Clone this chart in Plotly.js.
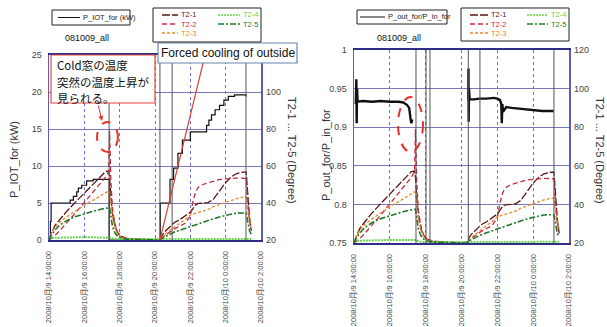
<!DOCTYPE html>
<html><head><meta charset="utf-8">
<script src="https://cdn.plot.ly/plotly-3.0.1.min.js"></script>
<style>html,body{margin:0;padding:0;background:#fff;}#chart{width:607px;height:327px;}</style>
</head><body><div id="chart"></div>
<script>
// ---------- DATA ----------
const tickHours = [14, 16, 18, 20, 22, 24, 26];
const tickText = ['2008/10月/9 14:00:00','2008/10月/9 16:00:00','2008/10月/9 18:00:00','2008/10月/9 20:00:00','2008/10月/9 22:00:00','2008/10月/10 0:00:00','2008/10月/10 2:00:00'];

// P_IOT_for (kW), clock hours
const tP = [14.0,14.08,14.12,15.2,15.38,15.57,15.66,15.85,16.13,16.5,17.4,17.41,20.28,20.3,20.85,21.05,21.3,21.55,22.0,22.92,23.05,23.2,23.4,23.65,23.9,24.15,24.5,25.15];
const vP = [0,2.5,5,5.4,5.9,6.5,7.0,7.4,8.0,8.2,8.2,0,0,5,8.2,9.7,11.7,13.5,14.6,15.5,16.2,16.9,17.6,18.2,18.9,19.4,19.6,19.4];

// P_out_for/P_in_for, two segments
const tR1 = [14.1,14.13,14.15,14.17,14.2,14.5,15.0,15.5,16.0,16.5,16.75,16.95,17.08,17.15,17.2,17.25];
const vR1 = [0.93,0.962,0.905,0.95,0.933,0.934,0.933,0.934,0.933,0.933,0.932,0.929,0.925,0.912,0.905,0.91];
const tR2 = [20.38,20.39,20.4,20.42,20.45,20.7,21.0,21.4,21.8,22.0,22.15,22.22,22.25,22.28,22.32,22.5,22.8,23.2,23.6,24.0,24.5,25.0,25.15];
const vR2 = [0.935,0.976,0.907,0.95,0.936,0.936,0.937,0.937,0.938,0.937,0.935,0.93,0.905,0.93,0.92,0.926,0.925,0.924,0.923,0.922,0.921,0.921,0.921];

// Temperatures (Degree)
const tT = [14.0,14.15,14.35,14.6,15.0,15.4,15.8,16.2,16.6,17.0,17.2,17.38,17.43,17.5,17.6,17.75,17.9,18.1,18.4,19.0,19.6,20.28,20.5,20.8,21.1,21.4,21.7,22.0,22.15,22.3,22.45,22.7,23.0,23.3,23.6,24.0,24.3,24.6,24.9,25.16,25.25,25.35,25.45];
const T2_1 = [20,24,28,31,35.5,39.5,43.5,47.5,51.5,55.5,57,57.3,54, 44,34,27,23.5,21.8,20.8,20.4,20.2,20, 24,27,29.5,31,33,35,37,39,39.8,40,40.2,42,46,51,54,55.8,56.6,56.8,45,32,25];
const T2_2 = [20,21,22.5,25,29,33.5,38,42.5,47,51.5,54,57,79, 52,36,28,24,22,21,20.5,20.3,20, 22,24,26,27.5,29,33,41,46,48.5,50,51,52,52.6,53,53.3,53.5,53.4,53.2,40,30,26];
const T2_3 = [20,24,27,29.5,32.5,35,37.5,40,42,44.5,45.5,46.5,46, 40,32,26,23,21.5,20.8,20.4,20.2,20, 22.5,25,27,29,31,33.5,34,34.5,35,35.5,36.5,38,39,40.5,41.5,42.3,43,43.3,36,30,28];
const T2_4 = [20.5,21,21.2,21.3,21.4,21.4,21.5,21.5,21.5,21.6,21.6,21.6,21.5, 21.2,20.8,20.6,20.5,20.5,20.5,20.5,20.5,20.5, 20.6,20.6,20.6,20.6,20.6,20.6,20.6,20.6,20.6,20.6,20.6,20.6,20.6,20.6,20.6,20.6,20.6,20.6,20.6,20.6,20.6];
const T2_5 = [20,23,25.5,28,30.5,32.3,33.5,34.8,35.8,36.8,37.3,37.7,37.5, 33,27,23.5,22,21,20.5,20.3,20.2,20, 21.5,23,24.3,25.3,26.2,27,27.5,28,28.5,29.5,30.5,31.5,32.3,33.3,34,34.5,34.6,34.6,30,25,23];
const tempNames = ['T2-1','T2-2','T2-3','T2-4','T2-5'];
const tempSeries = [T2_1, T2_2, T2_3, T2_4, T2_5];

// callout texts
const coldLines = ['Cold窓の温度', '突然の温度上昇が', '見られる。'];

// vertical off-scale lines
const vLinesLeft = [17.4, 20.28, 20.97, 25.15];
const vLinesRight = [17.46, 18.02, 18.24, 20.38, 25.16];
const vLinePartialRight = [21.03];

// ---------- STYLE ----------
const W = 607, H = 327;
const X = px => px / W, Y = py => 1 - py / H;
const FONT = 'Liberation Sans, Arial, "Noto Sans CJK JP", sans-serif';
const tempStyle = [
  {color:'#5a1414', dash:'8px,2px', width:1.3},
  {color:'#c8283c', dash:'5px,3px', width:1.3},
  {color:'#e8892a', dash:'3px,2px', width:1.3},
  {color:'#66d44a', dash:'2px,1px', width:2},
  {color:'#1e7a28', dash:'6px,2px,2px,2px', width:1.6}
];

const traces = [];
traces.push({x:tP, y:vP, type:'scatter', mode:'lines', line:{shape:'hv', color:'#111', width:1.2}, xaxis:'x', yaxis:'y', name:'P_IOT_for (kW)', showlegend:false});
traces.push({x:tR1.concat([18.5]).concat(tR2), y:vR1.concat([null]).concat(vR2), type:'scatter', mode:'lines', line:{color:'#111', width:2.4}, xaxis:'x2', yaxis:'y2', name:'P_out_for/P_in_for', showlegend:false, connectgaps:false});
[['x','y3'],['x2','y4']].forEach(ax => {
  tempSeries.forEach((s,i) => {
    traces.push({x:tT, y:s, type:'scatter', mode:'lines', line:tempStyle[i], xaxis:ax[0], yaxis:ax[1], name:tempNames[i], showlegend:false});
  });
});

const shapes = [];
const annotations = [];
vLinesLeft.forEach(t => shapes.push({type:'line', xref:'x', yref:'y domain', x0:t, x1:t, y0:0, y1:1, line:{color:'#555', width:1}, layer:'above'}));
vLinesRight.forEach(t => shapes.push({type:'line', xref:'x2', yref:'y2 domain', x0:t, x1:t, y0:0, y1:1, line:{color:'#555', width:1}, layer:'above'}));
vLinePartialRight.forEach(t => shapes.push({type:'line', xref:'x2', yref:'y2', x0:t, x1:t, y0:0.777, y1:1, line:{color:'#555', width:1}, layer:'above'}));

// red dashed ellipses
shapes.push({type:'circle', xref:'x', yref:'y', x0:16.72, x1:17.9, y0:11.9, y1:15.95, line:{color:'#e8302a', width:2, dash:'dash'}, layer:'above'});
shapes.push({type:'circle', xref:'x2', yref:'y2', x0:16.46, x1:17.85, y0:0.868, y1:0.939, line:{color:'#e8302a', width:2, dash:'dash'}, layer:'above'});
// forced cooling pointer line
shapes.push({type:'line', xref:'x', yref:'y', x0:20.28, y0:0, x1:22.72, y1:23.9, line:{color:'#d9413a', width:1.2}, layer:'above'});

// annotation boxes
shapes.push({type:'rect', xref:'paper', yref:'paper', x0:X(51), x1:X(155), y0:Y(103), y1:Y(55), fillcolor:'#fff', line:{color:'#e8453c', width:1.2}, layer:'above'});
shapes.push({type:'rect', xref:'paper', yref:'paper', x0:X(158), x1:X(297), y0:Y(63), y1:Y(43), fillcolor:'#fff', line:{color:'#6a88b0', width:1.2}, layer:'above'});
function note(px, py, text, font, extra){
  annotations.push(Object.assign({xref:'paper', yref:'paper', x:X(px), y:Y(py), xanchor:'center', yanchor:'middle', showarrow:false, text:text, font:font, borderpad:0}, extra||{}));
}
coldLines.forEach((ln,i) => note(56, 65 + i*16.5, ln, {family:'"Noto Sans CJK JP", sans-serif', size:11.5, color:'#111'}, {xanchor:'left', align:'left'}));
note(228, 53, 'Forced cooling of outside', {family:'Liberation Sans, Arial, sans-serif', size:12, color:'#111'});
annotations.push({xref:'paper', yref:'paper', x:X(102), y:Y(121), ax:-4, ay:-17, text:'', showarrow:true, arrowhead:2, arrowsize:1, arrowwidth:1, arrowcolor:'#e8302a'});

// titles
note(87, 38, '081009_all', {family:FONT, size:9, color:'#111'});
note(399, 38, '081009_all', {family:FONT, size:9, color:'#111'});
// axis titles
note(14, 160, 'P_IOT_for (kW)', {family:FONT, size:11, color:'#333'}, {textangle:-90});
note(292, 150, 'T2-1 ... T2-5 (Degree)', {family:FONT, size:11, color:'#333'}, {textangle:90});
note(326, 155, 'P_out_for/P_in_for', {family:FONT, size:11, color:'#333'}, {textangle:-90});
note(600, 150, 'T2-1 ... T2-5 (Degree)', {family:FONT, size:11, color:'#333'}, {textangle:90});

// custom legends
function legendBox(x0,y0,x1,y1){ shapes.push({type:'rect', xref:'paper', yref:'paper', x0:X(x0), x1:X(x1), y0:Y(y1), y1:Y(y0), fillcolor:'#fff', line:{color:'#222', width:1}, layer:'above'}); }
function legendItem(sx0,sx1,sy,style,label,tcol){
  shapes.push({type:'line', xref:'paper', yref:'paper', x0:X(sx0), x1:X(sx1), y0:Y(sy), y1:Y(sy), line:{color:style.color, width:Math.min(style.width,1.3), dash:style.dash}, layer:'above'});
  note(sx1+2, sy, label, {family:FONT, size:7.5, color:tcol}, {xanchor:'left'});
}
legendBox(52,10,130,25);
legendItem(58,80,17.5,{color:'#111',width:1,dash:'solid'},'P_IOT_for (kW)','#222');
legendBox(153,8,261,42);
[[162,178,15],[162,178,24],[162,178,33],[218,240,15],[218,240,24]].forEach((p,i)=>legendItem(p[0],p[1],p[2],tempStyle[i],tempNames[i],tempStyle[i].color));
legendBox(357,10,447,24);
legendItem(360,385,17,{color:'#111',width:1,dash:'solid'},'P_out_for/P_in_for','#222');
legendBox(461,8,569,41);
[[470,488,15],[470,488,24],[470,488,33],[527,548,15],[527,548,24]].forEach((p,i)=>legendItem(p[0],p[1],p[2],tempStyle[i],tempNames[i],tempStyle[i].color));

const gridH = '#7878b8', gridV = '#6e6ee6';
const xCommon = {range:[14,26], tickvals:tickHours, ticktext:tickText, tickangle:-90, showgrid:true, gridcolor:gridV, griddash:'dot', gridwidth:1,
  showline:true, linecolor:'#2e2e8a', linewidth:2, mirror:true, ticks:'', zeroline:false, ticklabelstandoff:6,
  tickfont:{family:FONT, size:7.5, color:'#444'}, fixedrange:true};
const yCommon = {showgrid:true, gridcolor:gridH, gridwidth:1, showline:true, linecolor:'#5c5cb4', linewidth:1.5, mirror:true, ticks:'', zeroline:false,
  ticklabelstandoff:4, tickfont:{family:FONT, size:9, color:'#444'}, fixedrange:true};
const yRight = {side:'right', range:[20,120], showgrid:false, zeroline:false, showline:false, ticks:'', ticklabelstandoff:4,
  tickfont:{family:FONT, size:9, color:'#444'}, fixedrange:true};

const layout = {
  width:W, height:H, margin:{l:0,r:0,t:0,b:0}, paper_bgcolor:'#fff', plot_bgcolor:'#fff', showlegend:false,
  font:{family:FONT},
  xaxis:Object.assign({}, xCommon, {domain:[X(49), X(261)], anchor:'y'}),
  yaxis:Object.assign({}, yCommon, {domain:[Y(240), Y(55)], range:[0,25], tickvals:[0,5,10,15,20,25], anchor:'x'}),
  yaxis3:Object.assign({}, yRight, {overlaying:'y', anchor:'x', tickvals:[20,40,60,80,100]}),
  xaxis2:Object.assign({}, xCommon, {domain:[X(354), X(569)], anchor:'y2'}),
  yaxis2:Object.assign({}, yCommon, {domain:[Y(243), Y(50)], range:[0.75,1], tickvals:[0.75,0.8,0.85,0.9,0.95,1], ticktext:['0.75','0.8','0.85','0.9','0.95','1'], anchor:'x2'}),
  yaxis4:Object.assign({}, yRight, {overlaying:'y2', anchor:'x2', tickvals:[20,40,60,80,100,120]}),
  shapes:shapes, annotations:annotations
};
Plotly.newPlot('chart', traces, layout, {staticPlot:true, displayModeBar:false});
</script></body></html>
